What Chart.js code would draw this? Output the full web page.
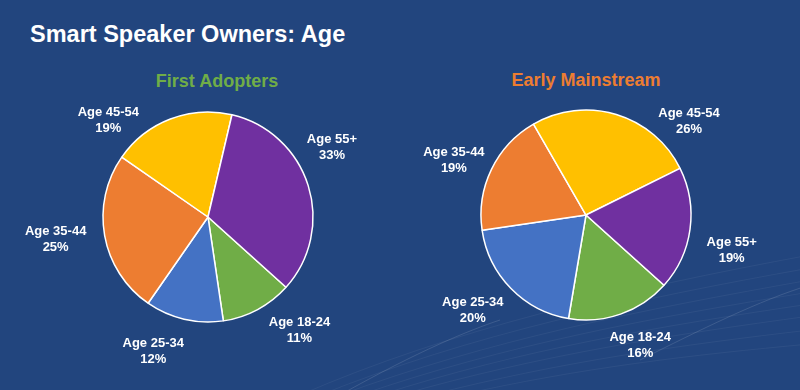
<!DOCTYPE html>
<html>
<head>
<meta charset="utf-8">
<script src="https://cdn.jsdelivr.net/npm/chart.js@4"></script>
<style>
  html, body { margin: 0; padding: 0; }
  body { width: 800px; height: 390px; background: #22457e; position: relative; overflow: hidden;
         font-family: "Liberation Sans", Arial, sans-serif; }
  #waves { position: absolute; left: 0; top: 0; }
  .title { position: absolute; left: 30px; top: 22px; color: #fff; font-weight: bold;
           font-size: 23.5px; line-height: 24px; white-space: nowrap; }
  .sub { position: absolute; width: 240px; text-align: center; font-weight: bold;
         font-size: 18px; line-height: 18px; }
  canvas.pie { position: absolute; top: 0; }
</style>
</head>
<body>
<svg id="waves" width="800" height="390">
  <g fill="none" stroke="#ffffff" stroke-opacity="0.05" stroke-width="1">
    <path d="M300 395 C 450 330, 620 290, 810 255"/>
    <path d="M320 395 C 470 335, 630 300, 810 268"/>
    <path d="M340 395 C 490 340, 640 310, 810 280"/>
    <path d="M360 395 C 505 345, 650 318, 810 292"/>
    <path d="M380 395 C 520 350, 660 326, 810 304"/>
    <path d="M400 395 C 540 355, 670 335, 810 316"/>
    <path d="M430 395 C 560 362, 680 345, 810 330"/>
    <path d="M460 395 C 580 368, 690 355, 810 344"/>
  </g>
  <g fill="none" stroke="#ffffff" stroke-opacity="0.12" stroke-width="1">
    <path d="M340 395 C 420 350, 470 330, 500 320"/>
    <path d="M640 360 C 700 330, 760 300, 810 285"/>
  </g>
</svg>

<div class="title">Smart Speaker Owners: Age</div>
<div class="sub" style="left:97px; top:72px; color:#70ad47;">First Adopters</div>
<div class="sub" style="left:466px; top:71px; color:#ed7d31;">Early Mainstream</div>

<canvas id="pieA" class="pie" width="400" height="390" style="left:0;"></canvas>
<canvas id="pieB" class="pie" width="400" height="390" style="left:400px;"></canvas>

<script>
var categories = ['Age 18-24', 'Age 25-34', 'Age 35-44', 'Age 45-54', 'Age 55+'];
var firstAdopters = [11, 12, 25, 19, 33];
var earlyMainstream = [16, 20, 19, 26, 19];
var sliceColors = ['#70ad47', '#4472c4', '#ed7d31', '#ffc000', '#7030a0'];

// labels sit outside each slice; nudge (degrees) and gap (px) mimic PowerPoint's best-fit placement
var outsideLabels = {
  id: 'outsideLabels',
  afterDatasetsDraw: function(chart, args, opts) {
    var ctx = chart.ctx;
    var meta = chart.getDatasetMeta(0);
    var values = chart.data.datasets[0].data;
    ctx.save();
    ctx.fillStyle = '#ffffff';
    ctx.font = 'bold 13px "Liberation Sans", Arial, sans-serif';
    ctx.textAlign = 'center';
    ctx.textBaseline = 'middle';
    meta.data.forEach(function(arc, i) {
      var p = arc.getProps(['x', 'y', 'startAngle', 'endAngle', 'outerRadius'], true);
      var mid = (p.startAngle + p.endAngle) / 2 + opts.nudge[i] * Math.PI / 180;
      var d = p.outerRadius + opts.gap[i];
      var x = p.x + Math.cos(mid) * d;
      var y = p.y + Math.sin(mid) * d;
      ctx.fillText(chart.data.labels[i], x, y - 8);
      ctx.fillText(values[i] + '%', x, y + 8);
    });
    ctx.restore();
  }
};

function makePie(id, values, padding, nudge, gap) {
  return new Chart(document.getElementById(id).getContext('2d'), {
    type: 'pie',
    data: {
      labels: categories,
      datasets: [{
        data: values,
        backgroundColor: sliceColors,
        borderColor: '#ffffff',
        borderWidth: 1.5,
        hoverOffset: 0
      }]
    },
    options: {
      responsive: false,
      animation: false,
      rotation: 132,
      radius: 105,
      layout: { padding: padding },
      events: [],
      plugins: {
        legend: { display: false },
        tooltip: { enabled: false },
        outsideLabels: { nudge: nudge, gap: gap }
      }
    },
    plugins: [outsideLabels]
  });
}

makePie('pieA', firstAdopters, { left: 16, top: 44 }, [-10.6, 9, 1.8, -24.8, -11.8], [41, 40, 49, 34, 37]);
makePie('pieB', earlyMainstream, { right: 28, top: 40 }, [-3.4, 4.3, -3.3, 31, 6], [36, 43, 38, 34, 45]);
</script>
</body>
</html>
